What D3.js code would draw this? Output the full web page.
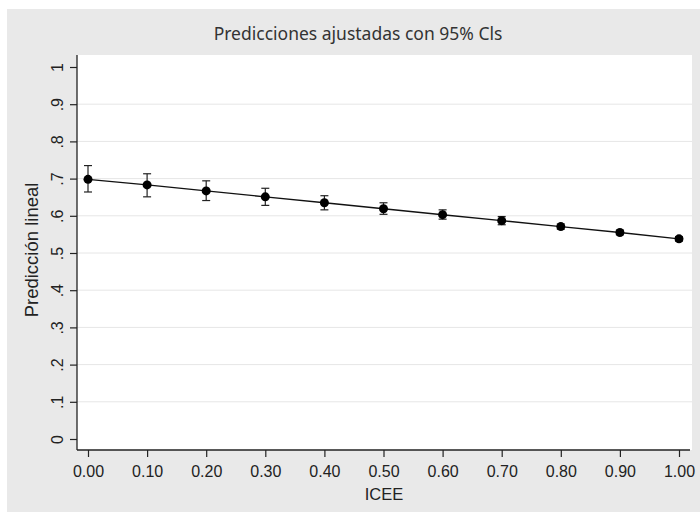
<!DOCTYPE html>
<html><head><meta charset="utf-8">
<script src="https://cdn.jsdelivr.net/npm/d3@7"></script>
<style>body{margin:0;background:#fff}</style>
</head><body>
<svg id="c" width="700" height="512"></svg>
<script>
const icee = [0.0, 0.1, 0.2, 0.3, 0.4, 0.5, 0.6, 0.7, 0.8, 0.9, 1.0];
const pred = [0.698, 0.683, 0.667, 0.651, 0.635, 0.619, 0.603, 0.587, 0.571, 0.555, 0.538];
const ciLow = [0.664, 0.651, 0.641, 0.628, 0.616, 0.604, 0.591, 0.576, 0.564, 0.549, 0.532];
const ciHigh = [0.735, 0.713, 0.694, 0.674, 0.654, 0.635, 0.616, 0.598, 0.578, 0.561, 0.544];
const xTicks = [0, 0.1, 0.2, 0.3, 0.4, 0.5, 0.6, 0.7, 0.8, 0.9, 1.0];
const yTicks = [0, 0.1, 0.2, 0.3, 0.4, 0.5, 0.6, 0.7, 0.8, 0.9, 1];
const yTickLabels = ["0", ".1", ".2", ".3", ".4", ".5", ".6", ".7", ".8", ".9", "1"];
const title = "Predicciones ajustadas con 95% Cls";
const xTitle = "ICEE";
const yTitle = "Predicción lineal";

const svg = d3.select("#c");
svg.append("rect").attr("x", 7).attr("y", 9).attr("width", 693).attr("height", 503).attr("fill", "#e9e9e9");
const plot = {l: 77, r: 692, t: 55, b: 450};
svg.append("rect").attr("x", plot.l).attr("y", plot.t).attr("width", plot.r - plot.l).attr("height", plot.b - plot.t).attr("fill", "#fff");

const x = d3.scaleLinear().domain([0, 1]).range([88, 679]);
const y = d3.scaleLinear().domain([0, 1]).range([439, 67]);

// gridlines
svg.append("g").selectAll("line").data(yTicks.filter(v => v > 0 && v < 1)).join("line")
  .attr("x1", plot.l).attr("x2", plot.r).attr("y1", d => y(d)).attr("y2", d => y(d))
  .attr("stroke", "#e6e6e6").attr("stroke-width", 1);

// axes
const xAxis = svg.append("g").attr("transform", `translate(0,${plot.b})`)
  .call(d3.axisBottom(x).tickValues(xTicks).tickFormat(d3.format(".2f")).tickSize(7).tickSizeOuter(0));
xAxis.select(".domain").attr("d", `M${plot.l},0H${plot.r - 2}`).attr("stroke", "#222").attr("stroke-width", 1.3);
xAxis.selectAll(".tick line").attr("stroke", "#222").attr("stroke-width", 1.2);
xAxis.selectAll(".tick text").attr("dy", null).attr("y", 27).attr("font-family", "Liberation Sans, Arial, sans-serif")
  .attr("font-size", 16).attr("fill", "#222");

const yAxis = svg.append("g").attr("transform", `translate(${plot.l},0)`)
  .call(d3.axisLeft(y).tickValues(yTicks).tickFormat((d, i) => yTickLabels[i]).tickSize(7).tickSizeOuter(0));
yAxis.select(".domain").attr("d", `M0,${plot.t}V${plot.b}`).attr("stroke", "#222").attr("stroke-width", 1.3);
yAxis.selectAll(".tick line").attr("stroke", "#222").attr("stroke-width", 1.2);
yAxis.selectAll(".tick text").attr("x", null).attr("dy", null)
  .attr("transform", "translate(-20,0) rotate(-90)").attr("text-anchor", "middle").attr("dominant-baseline", "central")
  .attr("font-family", "Liberation Sans, Arial, sans-serif").attr("font-size", 16).attr("fill", "#222");

// titles
svg.append("text").attr("x", 358).attr("y", 40).attr("text-anchor", "middle")
  .attr("font-family", "Noto Sans, Open Sans, sans-serif").attr("font-size", 17.5).attr("fill", "#333").text(title);
svg.append("text").attr("x", 384).attr("y", 500).attr("text-anchor", "middle")
  .attr("font-family", "Liberation Sans, Arial, sans-serif").attr("font-size", 16.5).attr("fill", "#222").text(xTitle);
svg.append("text").attr("transform", "translate(38,250) rotate(-90)").attr("text-anchor", "middle")
  .attr("font-family", "Liberation Sans, Arial, sans-serif").attr("font-size", 18.5).attr("fill", "#222").text(yTitle);

const data = icee.map((v, i) => ({x: v, p: pred[i], lo: ciLow[i], hi: ciHigh[i]}));

// line
svg.append("path").datum(data)
  .attr("d", d3.line().x(d => x(d.x)).y(d => y(d.p)))
  .attr("fill", "none").attr("stroke", "#111").attr("stroke-width", 1.4);

// error bars
const eb = svg.append("g").attr("stroke", "#222").attr("stroke-width", 1.2);
data.forEach(d => {
  eb.append("line").attr("x1", x(d.x)).attr("x2", x(d.x)).attr("y1", y(d.lo)).attr("y2", y(d.hi));
  eb.append("line").attr("x1", x(d.x) - 4).attr("x2", x(d.x) + 4).attr("y1", y(d.lo)).attr("y2", y(d.lo));
  eb.append("line").attr("x1", x(d.x) - 4).attr("x2", x(d.x) + 4).attr("y1", y(d.hi)).attr("y2", y(d.hi));
});

// points
svg.append("g").selectAll("circle").data(data).join("circle")
  .attr("cx", d => x(d.x)).attr("cy", d => y(d.p)).attr("r", 4.5).attr("fill", "#000");
</script>
</body></html>
